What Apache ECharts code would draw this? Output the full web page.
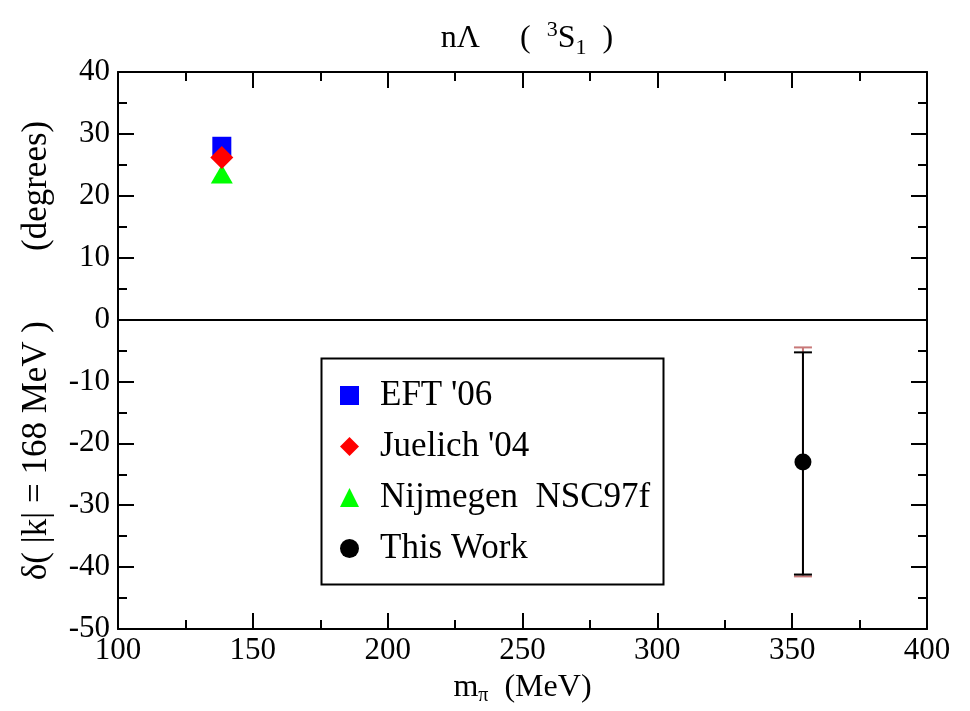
<!DOCTYPE html>
<html>
<head>
<meta charset="utf-8">
<script src="https://cdn.jsdelivr.net/npm/echarts@6/dist/echarts.min.js"></script>
<style>html,body{margin:0;padding:0;background:#fff;}#chart{width:970px;height:711px;}</style>
</head>
<body>
<div id="chart"></div>
<script>
// ---- data ----
var seriesNames = ["EFT '06", "Juelich '04", "Nijmegen  NSC97f", "This Work"];
var eftPoints = [[138.5, 28.0]];
var juelichPoints = [[138.5, 26.2]];
var nijmegenPoints = [[138.5, 23.5]];
var thisWorkPoints = [[354, -23.0]];
// error bars: [x, upper, lower]
var thisWorkErrInner = [[354, -5.3, -41.2]];
var thisWorkErrOuter = [[354, -4.5, -41.5]];
var xTicks = {min: 100, max: 400, interval: 50};
var yTicks = {min: -50, max: 40, interval: 10};

var FONT = '"Liberation Serif", "Times New Roman", serif';

function errRender(color) {
  return function (params, api) {
    var x = api.value(0);
    var top = api.coord([x, api.value(1)]);
    var bot = api.coord([x, api.value(2)]);
    var hw = 9;
    var st = {stroke: color, lineWidth: 2};
    return {
      type: 'group',
      children: [
        {type: 'line', shape: {x1: top[0], y1: top[1], x2: bot[0], y2: bot[1]}, style: st},
        {type: 'line', shape: {x1: top[0] - hw, y1: top[1], x2: top[0] + hw, y2: top[1]}, style: st},
        {type: 'line', shape: {x1: bot[0] - hw, y1: bot[1], x2: bot[0] + hw, y2: bot[1]}, style: st}
      ]
    };
  };
}

var axisCommon = {
  axisLine: {show: true, onZero: false, lineStyle: {color: '#000', width: 2}},
  axisTick: {show: true, inside: true, length: 16, lineStyle: {color: '#000', width: 2}},
  minorTick: {show: true, splitNumber: 2, length: 9, lineStyle: {color: '#000', width: 2}},
  splitLine: {show: false}
};

function mk(base, extra) { return Object.assign({}, JSON.parse(JSON.stringify(base)), extra); }

var chart = echarts.init(document.getElementById('chart'));
chart.setOption({
  backgroundColor: '#fff',
  animation: false,
  title: {
    text: '{a|nΛ     (  }{sup|3}{a|S}{sub|1}{a|  )}',
    left: 522, textAlign: 'center', top: 14,
    textStyle: {
      fontWeight: 'normal', fontFamily: FONT,
      rich: {
        a: {fontFamily: FONT, fontWeight: 'normal', fontSize: 32, color: '#000', lineHeight: 40},
        sup: {fontFamily: FONT, fontWeight: 'normal', fontSize: 22, color: '#000', lineHeight: 22, verticalAlign: 'top'},
        sub: {fontFamily: FONT, fontWeight: 'normal', fontSize: 22, color: '#000', lineHeight: 18, verticalAlign: 'bottom'}
      }
    }
  },
  grid: {left: 118, right: 43, top: 72, bottom: 73, containLabel: false},
  xAxis: [
    mk(axisCommon, {
      type: 'value', position: 'bottom', min: xTicks.min, max: xTicks.max, interval: xTicks.interval,
      axisLabel: {show: true, color: '#000', fontFamily: FONT, fontSize: 31, margin: 6},
      name: '{a|m}{sub|π}{a|  (MeV)}', nameLocation: 'middle', nameGap: 41,
      nameTextStyle: {
        fontFamily: FONT,
        rich: {
          a: {fontFamily: FONT, fontSize: 32, color: '#000', lineHeight: 36},
          sub: {fontFamily: FONT, fontSize: 20, color: '#000', lineHeight: 20, verticalAlign: 'bottom'}
        }
      }
    }),
    mk(axisCommon, {
      type: 'value', position: 'top', min: xTicks.min, max: xTicks.max, interval: xTicks.interval,
      axisLabel: {show: false}
    })
  ],
  yAxis: [
    mk(axisCommon, {
      type: 'value', position: 'left', min: yTicks.min, max: yTicks.max, interval: yTicks.interval,
      axisLabel: {show: true, color: '#000', fontFamily: FONT, fontSize: 31, margin: 8},
      name: 'δ( |k| = 168 MeV )        (degrees)', nameLocation: 'middle', nameGap: 64,
      nameTextStyle: {fontFamily: FONT, fontSize: 35, color: '#000'}
    }),
    mk(axisCommon, {
      type: 'value', position: 'right', min: yTicks.min, max: yTicks.max, interval: yTicks.interval,
      axisLabel: {show: false}
    })
  ],
  legend: {
    orient: 'vertical', left: 335, top: 373,
    itemWidth: 19, itemHeight: 19, itemGap: 16,
    formatter: function (name) { return '{g|}{t|' + name + '}'; },
    textStyle: {
      fontFamily: FONT, fontSize: 35, color: '#000',
      rich: {
        g: {width: 16},
        t: {fontFamily: FONT, fontSize: 35, color: '#000'}
      }
    },
    data: [
      {name: seriesNames[0], icon: 'rect'},
      {name: seriesNames[1], icon: 'diamond'},
      {name: seriesNames[2], icon: 'triangle'},
      {name: seriesNames[3], icon: 'circle'}
    ]
  },
  graphic: [{
    type: 'rect', left: 319, top: 356, z: 1, silent: true,
    shape: {width: 342, height: 226},
    style: {fill: 'none', stroke: '#000', lineWidth: 2}
  }],
  series: [
    {name: seriesNames[0], type: 'scatter', data: eftPoints, symbol: 'rect', symbolSize: 19, itemStyle: {color: '#0000ff', opacity: 1}, z: 3},
    {name: seriesNames[2], type: 'scatter', data: nijmegenPoints, symbol: 'triangle', symbolSize: [22, 19], itemStyle: {color: '#00ff00', opacity: 1}, z: 3},
    {name: seriesNames[1], type: 'scatter', data: juelichPoints, symbol: 'diamond', symbolSize: 23, itemStyle: {color: '#ff0000', opacity: 1}, z: 4},
    {type: 'custom', data: thisWorkErrOuter, renderItem: errRender('#c87878'), encode: {x: 0, y: [1, 2]}, z: 2, silent: true},
    {type: 'custom', data: thisWorkErrInner, renderItem: errRender('#000'), encode: {x: 0, y: [1, 2]}, z: 3, silent: true,
      markLine: {silent: true, symbol: 'none', label: {show: false}, lineStyle: {color: '#000', width: 2, type: 'solid'}, data: [{yAxis: 0}]}},
    {name: seriesNames[3], type: 'scatter', data: thisWorkPoints, symbol: 'circle', symbolSize: 17, itemStyle: {color: '#000', opacity: 1}, z: 5}
  ]
});
</script>
</body>
</html>
